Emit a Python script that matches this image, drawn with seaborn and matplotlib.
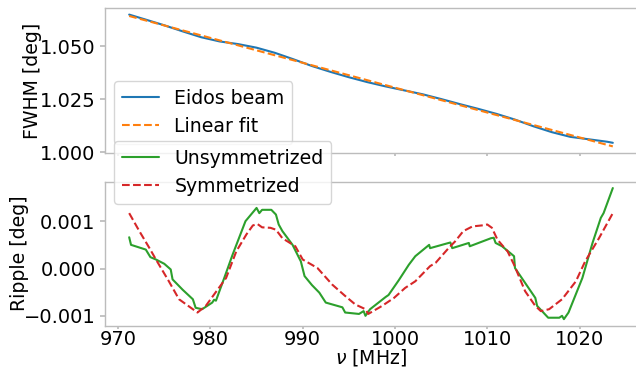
import numpy as np
import pandas as pd
import matplotlib
matplotlib.use("Agg")
import matplotlib.pyplot as plt
import matplotlib.ticker as mticker
import seaborn as sns

# ---- data ----
beam_freq = [971.2, 973, 975, 977, 979, 981, 983, 985, 987, 989, 991, 993, 995,
             997, 999, 1001, 1003, 1005, 1007, 1009, 1011, 1013, 1015, 1017,
             1019, 1021, 1023, 1023.6]
beam_fwhm = [1.06496, 1.06258, 1.05991, 1.05703, 1.05427, 1.05228, 1.05103,
             1.04933, 1.04688, 1.04385, 1.04067, 1.03792, 1.03538, 1.03307,
             1.03102, 1.02917, 1.02732, 1.02507, 1.02271, 1.02046, 1.01806,
             1.01536, 1.01221, 1.00942, 1.00721, 1.00606, 1.00490, 1.00440]

fit_freq = [971.2, 1023.6]
fit_fwhm = [1.0643, 1.0027]

unsym_freq = [971.2, 971.4, 973.0, 973.5, 974.1, 975.0, 975.7, 975.9, 977.0,
              978.1, 978.4, 979.1, 980.2, 980.4, 980.6, 981.5, 982.4, 983.8,
              985.0, 985.3, 985.6, 986.6, 987.1, 987.4, 987.8, 988.9, 989.8,
              990.2, 991.0, 991.8, 992.5, 994.3, 994.6, 996.1, 996.6, 996.8,
              997.3, 999.0, 999.3, 1000.4, 1001.5, 1002.2, 1003.7, 1003.8,
              1006.0, 1006.2, 1008.0, 1008.1, 1010.4, 1010.7, 1010.9, 1011.6,
              1012.9, 1013.0, 1015.2, 1015.4, 1016.6, 1017.8, 1018.1, 1018.3,
              1018.8, 1020.3, 1021.4, 1022.3, 1022.6, 1023.6]
unsym_ripple = [0.00066, 0.00050, 0.00040, 0.00024, 0.00019, 0.00010, -0.00002,
                -0.00023, -0.00045, -0.00065, -0.00083, -0.00086, -0.00072,
                -0.00066, -0.00068, -0.00020, 0.00029, 0.00100, 0.00128,
                0.00117, 0.00124, 0.00124, 0.00114, 0.00093, 0.00079, 0.00050,
                0.00015, -0.00016, -0.00035, -0.00051, -0.00072, -0.00082,
                -0.00093, -0.00096, -0.00090, -0.00100, -0.00086, -0.00060,
                -0.00056, -0.00025, 0.00008, 0.00026, 0.00050, 0.00043,
                0.00055, 0.00043, 0.00054, 0.00047, 0.00064, 0.00065, 0.00054,
                0.00047, 0.00026, 0.00001, -0.00062, -0.00079, -0.00104,
                -0.00104, -0.00100, -0.00107, -0.00093, -0.00020, 0.00054,
                0.00107, 0.00117, 0.00170]

sym_freq = [971.2, 972.3, 973.4, 974.1, 975.5, 976.6, 978.1, 978.6, 979.5,
            981.7, 982.8, 983.9, 984.6, 985.1, 985.6, 986.5, 987.1, 987.8,
            989.2, 990.0, 991.6, 993.2, 994.6, 995.7, 996.8, 997.1, 998.6,
            999.9, 1001.1, 1002.2, 1003.8, 1004.4, 1005.8, 1006.5, 1007.4,
            1008.4, 1009.4, 1010.0, 1010.5, 1011.1, 1012.2, 1012.9, 1014.1,
            1015.2, 1015.8, 1016.7, 1018.1, 1019.6, 1020.6, 1022.1, 1023.6]
sym_ripple = [0.00117, 0.00079, 0.00043, 0.00019, -0.00027, -0.00065, -0.00086,
              -0.00093, -0.00079, -0.00020, 0.00036, 0.00072, 0.00091, 0.00094,
              0.00087, 0.00086, 0.00082, 0.00064, 0.00047, 0.00019, 0.00001,
              -0.00034, -0.00058, -0.00076, -0.00086, -0.00096, -0.00079,
              -0.00062, -0.00041, -0.00027, 0.00005, 0.00012, 0.00043, 0.00057,
              0.00079, 0.00089, 0.00091, 0.00093, 0.00086, 0.00061, 0.00036,
              0.00008, -0.00048, -0.00079, -0.00090, -0.00086, -0.00065,
              -0.00027, 0.00015, 0.00064, 0.00117]

xticks = [970, 980, 990, 1000, 1010, 1020]

# ---- style ----
sns.set_theme(style="white")
FS = 13.6
TFS = 14.0
spine_c = "#bcbcbc"
plt.rcParams.update({
    "font.family": ["DejaVu Sans"],
    "font.size": FS,
    "axes.edgecolor": spine_c,
    "axes.linewidth": 1.0,
    "xtick.color": spine_c,
    "ytick.color": spine_c,
    "xtick.labelcolor": "black",
    "ytick.labelcolor": "black",
    "xtick.bottom": True,
    "ytick.left": True,
    "xtick.major.size": 2.5,
    "ytick.major.size": 3.5,
    "xtick.major.pad": 0.6,
    "ytick.major.pad": 3.3,
    "xtick.labelsize": TFS,
    "ytick.labelsize": TFS,
    "axes.labelsize": FS,
    "legend.fontsize": FS,
    "axes.labelcolor": "black",
    "text.color": "black",
})

W, H = 636, 373
fig = plt.figure(figsize=(W / 100, H / 100), dpi=100)
ax1 = fig.add_axes([105 / W, 1 - 153 / H, 532 / W, 145 / H])
ax2 = fig.add_axes([105 / W, 1 - 325.7 / H, 532 / W, 144.2 / H], sharex=ax1)

blue, orange, green, red = "#1f77b4", "#ff7f0e", "#2ca02c", "#d62728"

sns.lineplot(x=beam_freq, y=beam_fwhm, ax=ax1, color=blue, lw=1.5,
             label="Eidos beam")
sns.lineplot(x=fit_freq, y=fit_fwhm, ax=ax1, color=orange, lw=1.5,
             linestyle="--", label="Linear fit")

sns.lineplot(x=unsym_freq, y=unsym_ripple, ax=ax2, color=green, lw=1.5,
             label="Unsymmetrized")
sns.lineplot(x=sym_freq, y=sym_ripple, ax=ax2, color=red, lw=1.5,
             linestyle="--", label="Symmetrized")

ax1.yaxis.set_major_locator(mticker.MultipleLocator(0.025))
ax1.yaxis.set_major_formatter(mticker.FormatStrFormatter("%.3f"))
ax2.yaxis.set_major_locator(mticker.MultipleLocator(0.001))
ax2.yaxis.set_major_formatter(mticker.FuncFormatter(
    lambda v, p: ("%.3f" % v).replace("-", "\u2212") if abs(v) > 1e-12 else "0.000"))
ax2.set_xticks(xticks)
ax1.tick_params(labelbottom=False)

ax1.set_ylabel("FWHM [deg]")
ax2.set_ylabel("Ripple [deg]")
ax2.set_xlabel(r"$\nu$ [MHz]")
ax1.set_xlabel("")
ax1.yaxis.set_label_coords(-0.119, 0.5)
ax2.yaxis.set_label_coords(-0.142, 0.5)
ax2.xaxis.set_label_coords(0.5, -0.148)

ax1.margins(x=0.05, y=0.05)
ax2.margins(x=0.05, y=0.05)

ax1.legend(loc="upper left", bbox_to_anchor=(0.017, 0.4966), borderaxespad=0)
ax2.legend(loc="upper left", bbox_to_anchor=(0.017, 1.281), borderaxespad=0)

fig.savefig("out.png", dpi=100)
